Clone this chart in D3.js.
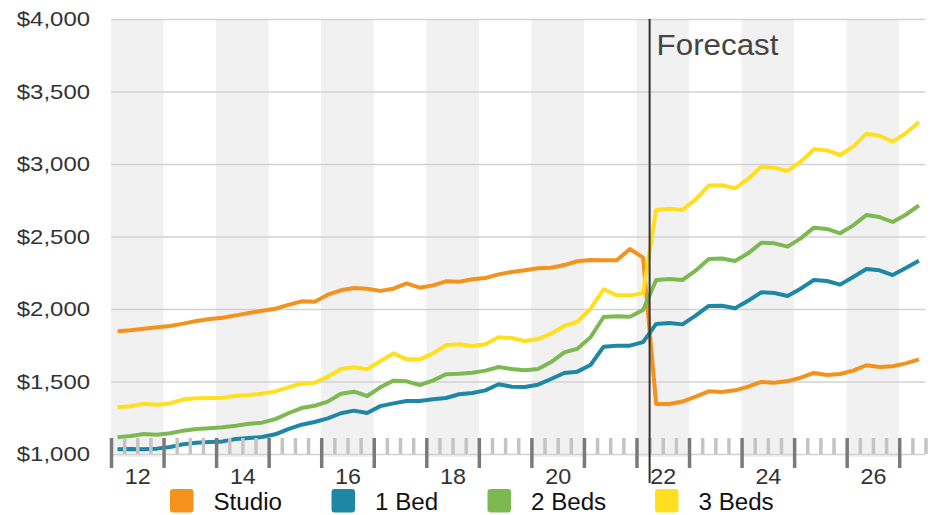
<!DOCTYPE html>
<html>
<head>
<meta charset="utf-8">
<script src="https://cdn.jsdelivr.net/npm/d3@7/dist/d3.min.js"></script>
<style>
  html, body { margin: 0; padding: 0; background: #fff; }
  svg { display: block; font-family: "Liberation Sans", Arial, Helvetica, sans-serif; }
</style>
</head>
<body>
<svg id="chart" width="943" height="515"></svg>
<script>
// Quarterly average rents, first quarter of 2012 through second quarter of 2027
const startYear = 2012;
const forecastStart = 2022.25;

const seriesNames = ["Studio", "1 Bed", "2 Beds", "3 Beds"];
const seriesColors = ["#F5921E", "#1E87A6", "#7DB951", "#FFDF1F"];

const studio = [1846,1853,1864,1874,1883,1899,1917,1931,1940,1956,
  1972,1988,2002,2028,2053,2050,2099,2129,2145,2140,
  2125,2140,2177,2147,2163,2191,2188,2205,2214,2239,
  2255,2267,2281,2285,2303,2329,2338,2336,2336,2414,
  2354,
  1345,1345,1362,1395,1432,1428,1439,1464,1497,
  1492,1503,1526,1559,1545,1552,1575,1612,1600,1605,
  1625,1653];

const oneBed = [1032,1034,1032,1037,1048,1067,1078,1083,1087,1103,
  1110,1117,1136,1172,1202,1221,1246,1281,1299,1283,
  1330,1349,1366,1366,1377,1386,1412,1421,1439,1481,
  1464,1462,1478,1517,1559,1568,1614,1740,1747,1747,
  1772,
  1897,1903,1894,1954,2021,2023,2005,2057,2115,
  2110,2090,2140,2200,2193,2168,2221,2276,2267,2234,
  2283,2333];

const twoBeds = [1115,1124,1138,1133,1143,1161,1172,1177,1184,1195,
  1209,1216,1241,1281,1317,1333,1361,1416,1430,1400,
  1460,1506,1501,1476,1506,1550,1554,1561,1575,1600,
  1586,1577,1586,1634,1701,1726,1805,1945,1950,1947,
  1993,
  2200,2207,2200,2264,2345,2348,2331,2384,2457,
  2453,2430,2487,2561,2552,2522,2577,2648,2634,2600,
  2650,2715];

const threeBeds = [1322,1329,1347,1340,1349,1377,1384,1386,1388,1402,
  1407,1416,1432,1460,1485,1492,1533,1586,1598,1584,
  1640,1694,1653,1653,1694,1750,1757,1745,1757,1805,
  1800,1779,1793,1830,1883,1912,2002,2136,2094,2094,
  2108,
  2683,2692,2683,2756,2851,2853,2832,2897,2982,
  2975,2952,3016,3101,3094,3062,3120,3209,3195,3154,
  3212,3290];

const yTicks = [1000, 1500, 2000, 2500, 3000, 3500, 4000];
const yearLabels = [2012, 2014, 2016, 2018, 2020, 2022, 2024, 2026];

const allSeries = [studio, oneBed, twoBeds, threeBeds];

// ---- layout ----
const svg = d3.select("#chart");
const plotLeft = 111, plotRight = 925.5, plotTop = 19, plotBottom = 454;

const x = d3.scaleLinear().domain([startYear, 2027.5]).range([plotLeft, plotRight]);
const y = d3.scaleLinear().domain([1000, 4000]).range([plotBottom, plotTop]);

// each value sits at the middle of its quarter
const qTime = i => startYear + (i + 0.5) / 4;

// widen glyphs a little so the type sets wide, like the house style
function widen(sel, factor) {
  sel.each(function () {
    const len = this.getComputedTextLength();
    d3.select(this)
      .attr("textLength", len * factor)
      .attr("lengthAdjust", "spacingAndGlyphs");
  });
}

// shaded bands on even years
svg.append("g")
  .selectAll("rect")
  .data(yearLabels)
  .join("rect")
  .attr("x", d => x(d))
  .attr("width", d => x(d + 1) - x(d))
  .attr("y", plotTop)
  .attr("height", plotBottom + 3 - plotTop)
  .attr("fill", "#f1f1f1");

// horizontal gridlines and dollar labels
const yAxis = svg.append("g")
  .attr("transform", `translate(${plotLeft},0)`)
  .call(d3.axisLeft(y)
    .tickValues(yTicks)
    .tickSize(-(plotRight - plotLeft))
    .tickPadding(21)
    .tickFormat(d => "$" + d3.format(",")(d)));
yAxis.select(".domain").remove();
yAxis.selectAll(".tick line").attr("stroke", "#d2d2d2").attr("stroke-width", 1.5);
yAxis.selectAll(".tick text")
  .attr("fill", "#333")
  .style("font-size", "21px")
  .call(widen, 1.14);

// series lines
const line = d3.line()
  .x((d, i) => x(qTime(i)))
  .y(d => y(d));

svg.append("g")
  .selectAll("path")
  .data(allSeries)
  .join("path")
  .attr("d", d => line(d))
  .attr("fill", "none")
  .attr("stroke", (d, i) => seriesColors[i])
  .attr("stroke-width", 4)
  .attr("stroke-linejoin", "round");

// quarter ticks
const quarterTicks = d3.range(startYear * 4, 2027.5 * 4 + 1)
  .map(q => q / 4)
  .filter(t => t % 1 !== 0);
const minorAxis = svg.append("g")
  .attr("transform", `translate(0,${plotBottom - 16})`)
  .call(d3.axisBottom(x).tickValues(quarterTicks).tickSize(16).tickFormat(""));
minorAxis.select(".domain").remove();
minorAxis.selectAll(".tick line").attr("stroke", "#c4c4c4").attr("stroke-width", 3.5);

// year ticks
const yearTicks = d3.range(startYear, 2028);
const majorAxis = svg.append("g")
  .attr("transform", `translate(0,${plotBottom - 16})`)
  .call(d3.axisBottom(x).tickValues(yearTicks).tickSize(30).tickFormat(""));
majorAxis.select(".domain").remove();
majorAxis.selectAll(".tick line").attr("stroke", "#7a7a7a").attr("stroke-width", 3.5);

// two-digit year labels centred on the year
const labelAxis = svg.append("g")
  .attr("transform", `translate(0,${plotBottom})`)
  .call(d3.axisBottom(x)
    .tickValues(yearLabels.map(d => d + 0.5))
    .tickSize(0)
    .tickPadding(14)
    .tickFormat(d => String(Math.floor(d)).slice(2)));
labelAxis.select(".domain").remove();
labelAxis.selectAll(".tick text")
  .attr("fill", "#333")
  .style("font-size", "22px")
  .call(widen, 1.06);

// forecast marker
svg.append("line")
  .attr("x1", x(forecastStart)).attr("x2", x(forecastStart))
  .attr("y1", plotTop).attr("y2", 483)
  .attr("stroke", "#333")
  .attr("stroke-width", 2);
svg.append("text")
  .attr("x", x(forecastStart) + 7)
  .attr("y", 55)
  .attr("fill", "#444")
  .style("font-size", "29px")
  .text("Forecast")
  .call(widen, 1.08);

// legend
const legendX = [170, 331.5, 487.5, 655];
const legend = svg.append("g").attr("transform", "translate(0,489)");
seriesNames.forEach((name, i) => {
  const g = legend.append("g").attr("transform", `translate(${legendX[i]},0)`);
  g.append("rect")
    .attr("width", 23.5).attr("height", 23.5)
    .attr("rx", 3)
    .attr("fill", seriesColors[i]);
  g.append("text")
    .attr("x", 43.5)
    .attr("y", 20.5)
    .attr("fill", "#111")
    .style("font-size", "23px")
    .text(name)
    .call(widen, 1.05);
});
</script>
</body>
</html>
